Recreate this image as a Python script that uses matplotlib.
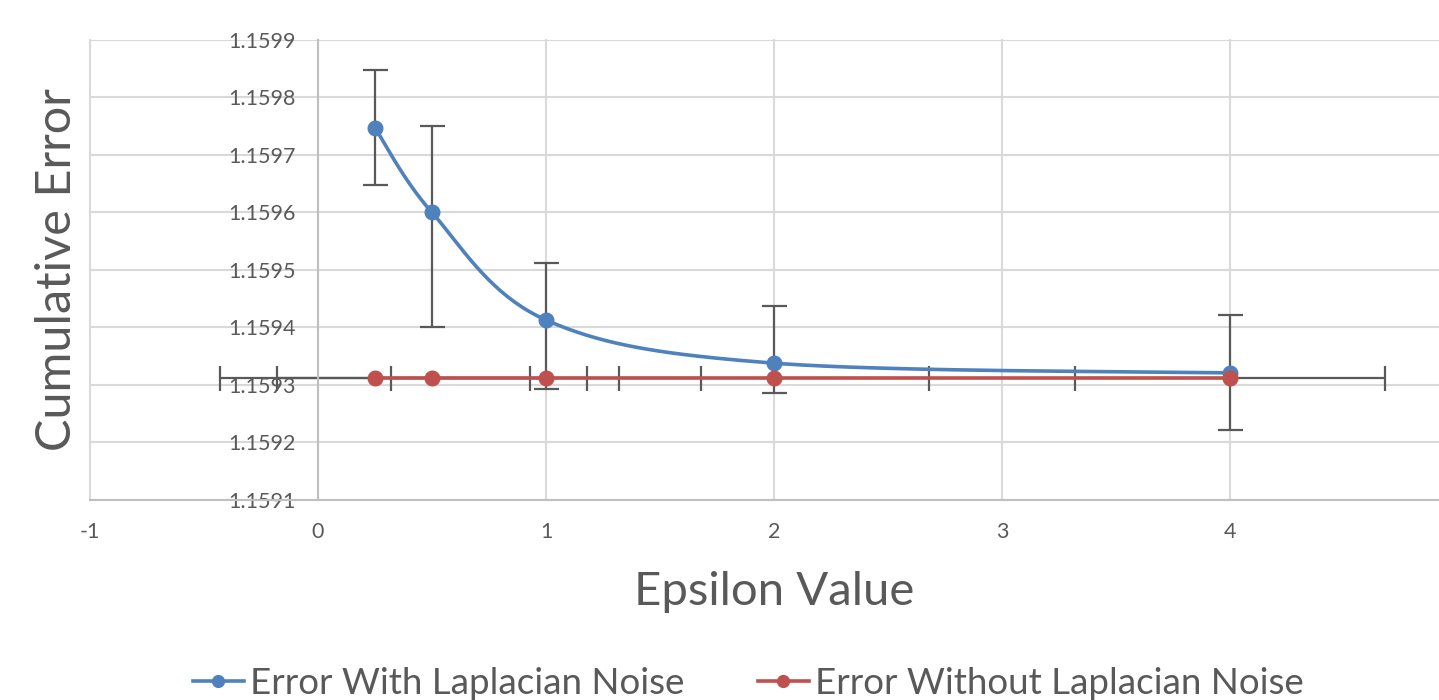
import numpy as np
import matplotlib.pyplot as plt
from matplotlib.lines import Line2D

plt.rcParams['font.family'] = ['Lato', 'DejaVu Sans']

# data
epsilon = [0.25, 0.5, 1, 2, 4]
err_with_noise = [1.159747, 1.159600, 1.159413, 1.159338, 1.159321]
err_with_lower = [0.000100, 0.000200, 0.000120, 0.000052, 0.000100]
err_with_upper = [0.000100, 0.000150, 0.000100, 0.000100, 0.000100]
err_without_noise = [1.159313, 1.159313, 1.159313, 1.159313, 1.159313]
eps_xerr = [0.68, 0.68, 0.68, 0.68, 0.68]

xticks = [-1, 0, 1, 2, 3, 4]
yticks = [1.1591, 1.1592, 1.1593, 1.1594, 1.1595, 1.1596, 1.1597, 1.1598, 1.1599]

BLUE = '#4f81bd'
RED = '#c0504d'
TXT = '#595959'
GRID = '#d9d9d9'
ERRC = '#595959'


def smooth(x, y, n=40):
    # Excel-like smoothed line: cubic bezier with catmull-rom control points
    x = np.asarray(x, float)
    y = np.asarray(y, float)
    P = np.column_stack([x, y])
    Pp = np.vstack([P[0], P, P[-1]])
    out = []
    t = np.linspace(0, 1, n)[:, None]
    for i in range(len(P) - 1):
        p0, p3 = P[i], P[i + 1]
        c1 = p0 + (Pp[i + 2] - Pp[i]) / 6
        c2 = p3 - (Pp[i + 3] - Pp[i + 1]) / 6
        seg = ((1 - t) ** 3) * p0 + 3 * ((1 - t) ** 2) * t * c1 + 3 * (1 - t) * t ** 2 * c2 + t ** 3 * p3
        out.append(seg if i == 0 else seg[1:])
    out = np.vstack(out)
    return out[:, 0], out[:, 1]


fig = plt.figure(figsize=(14.39, 7), dpi=100)
ax = fig.add_axes([90 / 1439, 200 / 700, 1349 / 1439, 460 / 700])

# error bars (under the lines)
ax.errorbar(epsilon, err_with_noise, yerr=[err_with_lower, err_with_upper], fmt='none',
            ecolor=ERRC, elinewidth=1.6, capsize=9, capthick=1.6, zorder=2)
ax.errorbar(epsilon, err_without_noise, xerr=eps_xerr, fmt='none',
            ecolor=ERRC, elinewidth=1.6, capsize=9, capthick=1.6, zorder=2)

sx, sy = smooth(epsilon, err_with_noise)
ax.plot(sx, sy, color=BLUE, lw=2.6, zorder=3, solid_capstyle='round')
ax.plot(epsilon, err_with_noise, 'o', color=BLUE, ms=10.5, zorder=4)
ax.plot(epsilon, err_without_noise, color=RED, lw=2.6, zorder=5)
ax.plot(epsilon, err_without_noise, 'o', color=RED, ms=10.5, zorder=6)

ax.set_xlim(-1, (1439 - 318) / 228)
ax.set_ylim(1.1591, 1.1599)
ax.set_xticks(xticks)
ax.set_yticks(yticks)
ax.set_xticklabels([str(v) for v in xticks])
ax.set_yticklabels([f'{v:.4f}' for v in yticks])
ax.tick_params(length=0, labelsize=15.5, labelcolor=TXT)
ax.tick_params(axis='x', pad=16)
ax.tick_params(axis='y', pad=16)

ax.grid(color=GRID, lw=1.5)
ax.set_axisbelow(True)
for gl in ax.get_xgridlines() + ax.get_ygridlines():
    gl.set_clip_on(False)

for s in ['top', 'right']:
    ax.spines[s].set_visible(False)
ax.spines['left'].set_position(('data', 0))
ax.spines['left'].set_color('#bfbfbf')
ax.spines['left'].set_linewidth(1.5)
ax.spines['bottom'].set_color('#bfbfbf')
ax.spines['bottom'].set_linewidth(1.5)

ax.set_xlabel('Epsilon Value', fontsize=34, color=TXT)
ax.xaxis.set_label_coords((774 - 90) / 1349, -0.155)
ax.set_ylabel('Cumulative Error', fontsize=35, color=TXT)
ax.yaxis.set_label_coords((57 - 90) / 1349, 0.5)
ax.yaxis.label.set_va('center')

handles = [
    Line2D([], [], color=BLUE, lw=2.6, marker='o', ms=8.5),
    Line2D([], [], color=RED, lw=2.6, marker='o', ms=8.5),
]
fig.legend(handles, ['Error With Laplacian Noise', 'Error Without Laplacian Noise'],
           loc='center', bbox_to_anchor=(748 / 1439, 17 / 700), ncol=2, frameon=False,
           fontsize=26.5, labelcolor=TXT, handlelength=1.4, handletextpad=0.15,
           columnspacing=2.0, borderpad=0)

fig.savefig('out.png', dpi=100)
